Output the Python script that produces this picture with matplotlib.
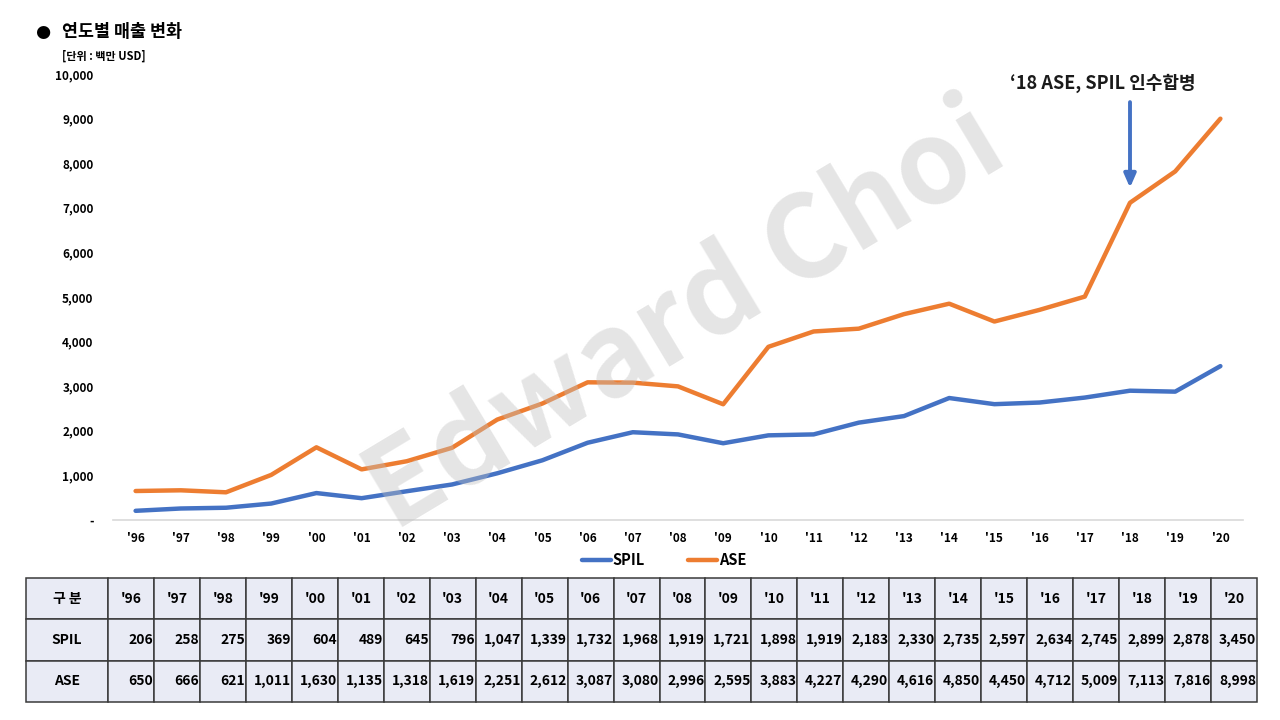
import matplotlib
matplotlib.use("Agg")
import matplotlib.pyplot as plt
from matplotlib.ticker import FuncFormatter, MultipleLocator

plt.rcParams['font.family'] = ['Noto Sans CJK KR', 'DejaVu Sans']
plt.rcParams['font.weight'] = 'bold'

years = ["'96", "'97", "'98", "'99", "'00", "'01", "'02", "'03", "'04", "'05",
         "'06", "'07", "'08", "'09", "'10", "'11", "'12", "'13", "'14", "'15",
         "'16", "'17", "'18", "'19", "'20"]
spil = [206, 258, 275, 369, 604, 489, 645, 796, 1047, 1339, 1732, 1968, 1919,
        1721, 1898, 1919, 2183, 2330, 2735, 2597, 2634, 2745, 2899, 2878, 3450]
ase = [650, 666, 621, 1011, 1630, 1135, 1318, 1619, 2251, 2612, 3087, 3080, 2996,
       2595, 3883, 4227, 4290, 4616, 4850, 4450, 4712, 5009, 7113, 7816, 8998]
series_names = ["SPIL", "ASE"]
title = "연도별 매출 변화"
unit = "[단위 : 백만 USD]"
header_label = "구 분"
note = "\u201818 ASE, SPIL 인수합병"
merge_year = "'18"
watermark = "Edward Choi"

c_spil = '#4472C4'
c_ase = '#ED7D31'

W, H = 1280, 720
fig = plt.figure(figsize=(W / 100, H / 100), dpi=100)

# main axes
ax = fig.add_axes([113 / W, 1 - 520 / H, (1243 - 113) / W, (520 - 74) / H])
x = list(range(len(years)))
l1, = ax.plot(x, spil, color=c_spil, lw=3.2, solid_capstyle='round', label=series_names[0])
l2, = ax.plot(x, ase, color=c_ase, lw=3.2, solid_capstyle='round', label=series_names[1])
ax.set_xlim(-0.5, len(years) - 0.5)
ax.set_ylim(0, 10000)
ax.yaxis.set_major_locator(MultipleLocator(1000))
ax.yaxis.set_major_formatter(FuncFormatter(lambda v, p: '-' if v == 0 else f'{int(v):,}'))
ax.set_xticks(x)
ax.set_xticklabels(years)
ax.tick_params(axis='y', length=0, pad=14, labelsize=8.5)
ax.tick_params(axis='x', length=0, pad=9, labelsize=8.5)
for s in ['top', 'right', 'left']:
    ax.spines[s].set_visible(False)
ax.spines['bottom'].set_color('#D9D9D9')
ax.spines['bottom'].set_linewidth(1.2)

# merger annotation
mi = years.index(merge_year)
ax.annotate('', xy=(mi, 7450), xytext=(mi, 9370),
            arrowprops=dict(arrowstyle='-|>,head_width=0.35,head_length=0.8',
                            color=c_spil, lw=2.8, shrinkA=0, shrinkB=0))
ax.text(mi - 0.6, 9780, note, ha='center', va='center', fontsize=13, fontweight='bold',
        color='#1a1a1a')

# watermark
fig.text(686 / W, 1 - 318 / H, watermark, fontsize=83, fontweight='bold',
         color='#BFBFBF', alpha=0.4, rotation=31, ha='center', va='center',
         rotation_mode='anchor', zorder=10)

# title
fig.text(43 / W, 1 - 32 / H, '●', fontsize=12.5, ha='center', va='center',
         family=['DejaVu Sans'], color='black')
fig.text(62 / W, 1 - 32 / H, title, fontsize=12.5, fontweight='bold', ha='left', va='center')
fig.text(62 / W, 1 - 56 / H, unit, fontsize=8, fontweight='bold', ha='left', va='center')

# legend
fig.legend(handles=[l1, l2], loc='center', bbox_to_anchor=(664 / W, 1 - 560 / H),
           ncol=2, frameon=False, handlelength=2.0, handletextpad=0.1,
           columnspacing=3.0, prop={'weight': 'bold', 'size': 10.5})

# table
tax = fig.add_axes([26 / W, 1 - 702 / H, (1257 - 26) / W, (702 - 578) / H])
tax.axis('off')
rows = [[header_label] + years,
        [series_names[0]] + [f'{v:,}' for v in spil],
        [series_names[1]] + [f'{v:,}' for v in ase]]
first_w = 82
other_w = (1257 - 26 - first_w) / len(years)
total = 1257 - 26
col_widths = [first_w / total] + [other_w / total] * len(years)
tbl = tax.table(cellText=rows, cellLoc='right', colWidths=col_widths,
                bbox=[0, 0, 1, 1])
tbl.auto_set_font_size(False)
tbl.set_fontsize(10)
for (r, c), cell in tbl.get_celld().items():
    cell.set_facecolor('#E9EBF5')
    cell.set_edgecolor('#3a3a3a')
    cell.set_linewidth(1.1)
    cell.PAD = 0.02
    cell.get_text().set_fontweight('bold')
    if r == 0 or c == 0:
        cell._loc = 'center'
        cell.get_text().set_ha('center')

fig.savefig('out.png', dpi=100)
